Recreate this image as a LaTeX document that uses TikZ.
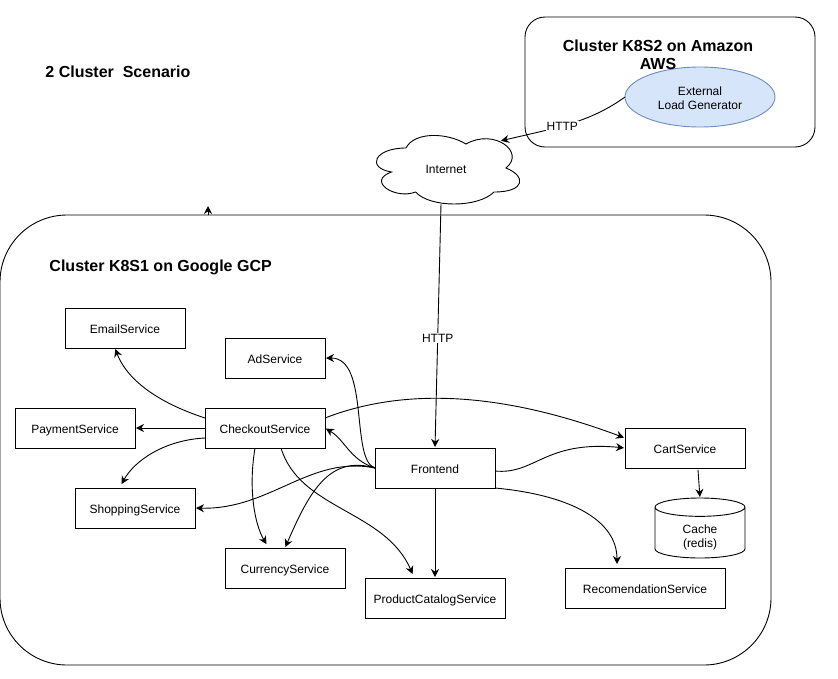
\documentclass[tikz,border=0pt]{standalone}
\usepackage{xcolor}
\usepackage{fontspec}
\setmainfont{Liberation Sans}
\usetikzlibrary{positioning, arrows.meta, shapes.geometric}
\definecolor{loadfill}{HTML}{D6E5F9}
\definecolor{loadline}{HTML}{6C8EBF}

\begin{document}
\begin{tikzpicture}[
    x=1pt, y=-1pt, line width=0.9pt,
    plain/.style={draw, align=center, font=\fontsize{12}{14}\selectfont, inner sep=1pt, outer sep=0pt, fill=white},
    box/.style={plain, minimum width=120pt, minimum height=40pt, text height=11pt, text depth=0pt},
    cluster/.style={draw, fill=white, inner sep=0pt},
    title/.style={font=\fontsize{16}{18}\selectfont\bfseries, align=center},
    lbl/.style={font=\fontsize{12}{14}\selectfont, fill=white, inner sep=1pt},
    arr/.style={-{Stealth[length=8pt, width=8pt]}, shorten >=1pt}
  ]
  \useasboundingbox (0,0) rectangle (838,678);

  % clusters
  \node[cluster, minimum width=771pt, minimum height=450pt, rounded corners=67pt] (gcp) at (385.5,440) {};
  \node[cluster, minimum width=290pt, minimum height=130pt, rounded corners=20pt] (aws) at (670,82) {};
  \node[title, anchor=west] (scenario) at (41.7,72) {2 Cluster\ \ Scenario};
  \node[title, anchor=west] (gcptitle) at (45.7,267) {Cluster K8S1 on Google GCP};
  \node[plain, ellipse, draw=loadline, fill=loadfill, minimum width=150pt, minimum height=60pt] (load) at (700,97) {\rule{0pt}{11pt}External\\Load Generator};
  \node[title] (awstitle) at (658,55) {Cluster K8S2 on Amazon\\AWS};

  % the cloud outline, then its text
  \draw[fill=white] (406,148) .. controls (374,148) and (366,168) .. (391.6,172)
    .. controls (366,180.8) and (394.8,200) .. (415.6,192)
    .. controls (430,208) and (478,208) .. (494,192)
    .. controls (526,192) and (526,176) .. (506,168)
    .. controls (526,152) and (494,128) .. (466,144)
    .. controls (446,132) and (414,132) .. (406,148);
  \node[lbl, fill=none, minimum width=145pt, minimum height=69pt] (internet) at (446,169) {Internet};
  \coordinate (cloudedge) at (500,141);

  % services
  \node[box] (frontend) at (435,468) {Frontend};
  \node[box, above left=0pt and 50pt of frontend] (checkout) {CheckoutService};
  \node[box, left=70pt of checkout] (payment) {PaymentService};
  \node[box, above left=60pt and 20pt of checkout] (email) {EmailService};
  \node[box, minimum width=100pt, above=30pt of checkout.north east, anchor=south east] (ad) {AdService};
  \node[box, below left=40pt and 10pt of checkout] (shopping) {ShoppingService};
  \node[box, below left=60pt and 30pt of frontend] (currency) {CurrencyService};
  \node[box, minimum width=140pt, below=90pt of frontend] (catalog) {ProductCatalogService};
  \node[box, minimum width=160pt, below right=80pt and 70pt of frontend] (recom) {RecomendationService};
  \node[box, above right=-20pt and 130pt of frontend] (cart) {CartService};
  \node[plain, cylinder, shape border rotate=90, aspect=0.5, inner ysep=0pt, minimum width=90pt, minimum height=60pt,
        anchor=south] (cache) at (700,558) {\rule{0pt}{16pt}Cache\\(redis)};

  \coordinate (stray) at (208,205);

  \draw[arr] (208,215) -- (stray);
  \draw[arr] (load.west) .. controls (590,122) and (560,127) .. node[lbl, pos=.58] (http2) {HTTP} (cloudedge);
  \draw[arr] ([xshift=-5pt]internet.south) -- node[lbl, pos=.55] (http1) {HTTP} (frontend.north);

  \draw[arr] ([yshift=10pt]checkout.west) .. controls (150,400) and (125,375) .. ([xshift=-10pt]email.south);
  \draw[arr] (checkout.west) -- (payment.east);
  \draw[arr] ([yshift=-10pt]checkout.west) .. controls (165,440) and (135,460) .. ([xshift=-14pt,yshift=3pt]shopping.north);
  \draw[arr] ([xshift=-10pt]checkout.south) .. controls (248,490) and (255,525) .. ([xshift=-18pt,yshift=3pt]currency.north);
  \draw[arr] ([xshift=16pt]checkout.south) .. controls (300,510) and (385,510) .. ([xshift=-22pt,yshift=3pt]catalog.north);
  \draw[arr] ([yshift=10pt]checkout.east) .. controls (410,385) and (510,395) .. ([yshift=10pt]cart.west);

  \draw[arr] (frontend.west) .. controls (350,460) and (370,358) .. (ad.east);
  \draw[arr] (frontend.west) .. controls (350,460) and (345,440) .. (checkout.east);
  \draw[arr] (frontend.west) .. controls (310,455) and (270,510) .. (shopping.east);
  \draw[arr] (frontend.west) .. controls (330,455) and (310,490) .. (currency.north);
  \draw[arr] ([yshift=-3pt]frontend.east) .. controls (535,475) and (545,440) .. (cart.west);
  \draw[arr] (frontend.south) -- (catalog.north);
  \draw[arr] (frontend.south east) .. controls (570,495) and (617,520) .. ([xshift=-28pt,yshift=3pt]recom.north);
  \draw[arr] ([xshift=13pt,yshift=-2pt]cart.south) -- (cache.north);
\end{tikzpicture}
\end{document}
